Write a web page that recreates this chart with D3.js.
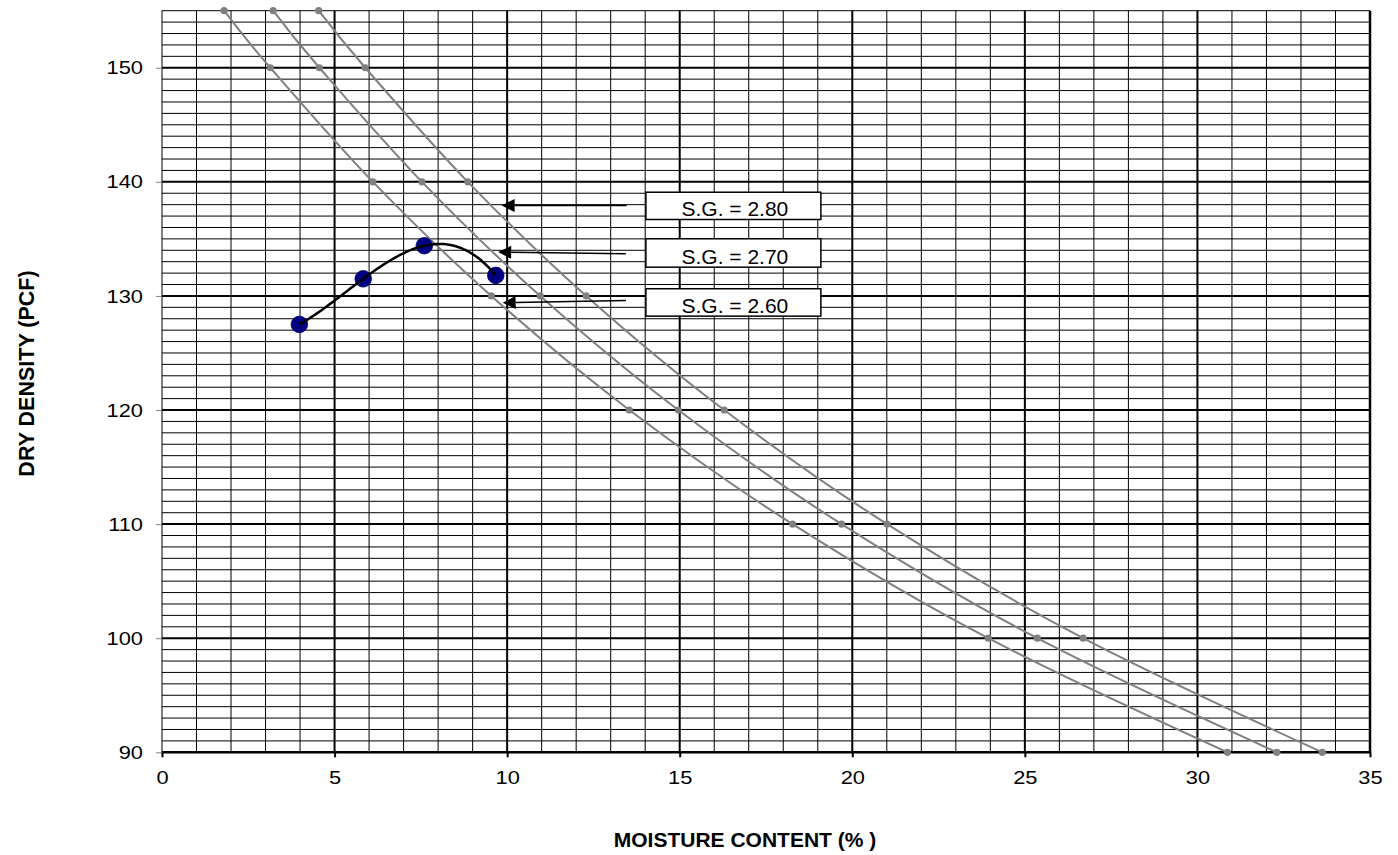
<!DOCTYPE html>
<html><head><meta charset="utf-8">
<script src="https://cdn.jsdelivr.net/npm/d3@7"></script>
<style>body{margin:0;background:#fff} svg{display:block}</style>
</head><body>
<svg id="c" width="1398" height="855"></svg>
<script>
// ---- data ----
const xTicks = [0,5,10,15,20,25,30,35];
const yTicks = [90,100,110,120,130,140,150];
const zavDensity   = [155,150,140,130,120,110,100,90];
const zavMoisture26 = [1.80,3.14,6.11,9.54,13.54,18.27,23.94,30.87];
const zavMoisture27 = [3.22,4.56,7.53,10.96,14.96,19.69,25.36,32.30];
const zavMoisture28 = [4.54,5.89,8.86,12.29,16.29,21.01,26.69,33.62];
const testMoisture = [3.98,5.83,7.60,9.67];
const testDensity  = [127.5,131.5,134.4,131.8];
const sgLabels = ["S.G. = 2.80","S.G. = 2.70","S.G. = 2.60"];
// annotation boxes / arrows in data units
const boxX = [14.02,19.09];
const boxTop    = [139.09,135.01,130.63];
const boxBottom = [136.70,132.52,128.23];
const arrowFromX = [13.46,13.44,13.44];
const arrowFromY = [137.93,133.70,129.61];
const arrowToX   = [9.84,9.74,9.87];
const arrowToY   = [137.93,133.84,129.40];

// ---- layout ----
const L=162, R=1370, T=10.7, B=752.3;
const FONT='"Liberation Sans", Arial, Helvetica, sans-serif';
const svg=d3.select('#c');
const x=d3.scaleLinear().domain([0,35]).range([L,R]);
const y=d3.scaleLinear().domain([90,155]).range([B,T]);

// minor grid
const g=svg.append('g');
const minorX=d3.range(1,35).filter(v=>v%5!==0);
const minorY=d3.range(91,155).filter(v=>v%10!==0);
g.selectAll('.mx').data(minorX).join('line')
  .attr('x1',d=>x(d)).attr('x2',d=>x(d)).attr('y1',T).attr('y2',B)
  .attr('stroke','#000').attr('stroke-width',1);
g.selectAll('.my').data(minorY).join('line')
  .attr('x1',L).attr('x2',R).attr('y1',d=>y(d)).attr('y2',d=>y(d))
  .attr('stroke','#000').attr('stroke-width',1);
// major grid
g.selectAll('.Mx').data(xTicks.filter(v=>v>0&&v<35)).join('line')
  .attr('x1',d=>x(d)).attr('x2',d=>x(d)).attr('y1',T).attr('y2',B)
  .attr('stroke','#000').attr('stroke-width',2);
g.selectAll('.My').data(yTicks.filter(v=>v>90)).join('line')
  .attr('x1',L).attr('x2',R).attr('y1',d=>y(d)).attr('y2',d=>y(d))
  .attr('stroke','#000').attr('stroke-width',2);
// borders
g.append('line').attr('x1',L).attr('x2',R).attr('y1',T).attr('y2',T).attr('stroke','#000').attr('stroke-width',1);
g.append('line').attr('x1',L).attr('x2',L).attr('y1',T).attr('y2',B).attr('stroke','#000').attr('stroke-width',1);
g.append('line').attr('x1',R).attr('x2',R).attr('y1',T).attr('y2',B).attr('stroke','#000').attr('stroke-width',2.5);
g.append('line').attr('x1',L).attr('x2',R+1).attr('y1',B).attr('y2',B).attr('stroke','#000').attr('stroke-width',2.5);

// axes
const SX=1.15;
const ya=svg.append('g').attr('transform',`translate(${L},0)`)
  .call(d3.axisLeft(y).tickValues(yTicks).tickSize(6).tickPadding(13));
ya.select('.domain').remove();
ya.selectAll('line').attr('stroke','#808080').attr('stroke-width',1);
ya.selectAll('text').attr('font-family',FONT).attr('font-size',19).attr('fill','#000')
  .attr('x',-19/SX).attr('transform',`scale(${SX},1)`);
const xa=svg.append('g').attr('transform',`translate(0,${B})`)
  .call(d3.axisBottom(x).tickValues(xTicks).tickSize(5).tickPadding(13.2));
xa.select('.domain').remove();
xa.selectAll('line').attr('stroke','#000').attr('stroke-width',2);
xa.selectAll('text').attr('font-family',FONT).attr('font-size',19).attr('fill','#000')
  .attr('transform',`scale(${SX},1)`);

// zero air voids curves
const curve=d3.curveCardinal.tension(0);
const zav=[zavMoisture26,zavMoisture27,zavMoisture28];
const lineZ=d3.line().curve(curve).x(d=>x(d[0])).y(d=>y(d[1]));
zav.forEach(m=>{
  const pts=m.map((w,i)=>[w,zavDensity[i]]);
  svg.append('path').attr('d',lineZ(pts)).attr('fill','none')
    .attr('stroke','#808080').attr('stroke-width',2);
  svg.append('g').selectAll('circle').data(pts).join('circle')
    .attr('cx',d=>x(d[0])).attr('cy',d=>y(d[1])).attr('r',3.6).attr('fill','#808080');
});

// test points
const tp=testMoisture.map((w,i)=>[w,testDensity[i]]);
svg.append('g').selectAll('circle').data(tp).join('circle')
  .attr('cx',d=>x(d[0])).attr('cy',d=>y(d[1])).attr('r',8.3)
  .attr('fill','#000080').attr('stroke','#000066').attr('stroke-width',0.8);
// polynomial (3rd order) trendline through the test points
function poly(v){
  let s=0;
  for(let i=0;i<testMoisture.length;i++){
    let t=testDensity[i];
    for(let j=0;j<testMoisture.length;j++) if(j!==i) t*=(v-testMoisture[j])/(testMoisture[i]-testMoisture[j]);
    s+=t;
  }
  return s;
}
const x0=d3.min(testMoisture), x1=d3.max(testMoisture);
const trend=d3.range(0,81).map(k=>{const v=x0+(x1-x0)*k/80; return [v,poly(v)];});
svg.append('path').attr('d',d3.line().x(d=>x(d[0])).y(d=>y(d[1]))(trend)).attr('fill','none')
  .attr('stroke','#000').attr('stroke-width',2.5);

// arrows + labels
sgLabels.forEach((s,i)=>{
  const x1=x(arrowFromX[i]), y1=y(arrowFromY[i]), x2=x(arrowToX[i]), y2=y(arrowToY[i]);
  const ang=Math.atan2(y2-y1,x2-x1);
  const hl=13, hw=6.5;
  const bx=x2-hl*Math.cos(ang), by=y2-hl*Math.sin(ang);
  svg.append('line').attr('x1',x1).attr('y1',y1).attr('x2',bx).attr('y2',by)
    .attr('stroke','#000').attr('stroke-width',1.5);
  const px=-Math.sin(ang)*hw, py=Math.cos(ang)*hw;
  svg.append('path').attr('d',`M${x2},${y2}L${bx+px},${by+py}L${bx-px},${by-py}Z`).attr('fill','#000');
  const bl=x(boxX[0]), br=x(boxX[1]), bt=y(boxTop[i]), bb=y(boxBottom[i]);
  svg.append('rect').attr('x',bl).attr('y',bt).attr('width',br-bl).attr('height',bb-bt)
    .attr('fill','#fff').attr('stroke','#000').attr('stroke-width',1.5);
  svg.append('text').attr('x',(bl+br)/2+1.5).attr('y',bb-3.3).attr('text-anchor','middle')
    .attr('font-family',FONT).attr('font-size',21).attr('fill','#000').text(s);
});

// axis titles
svg.append('text').attr('transform','translate(33.5,373.5) rotate(-90)')
  .attr('text-anchor','middle').attr('font-family',FONT).attr('font-weight','bold')
  .attr('font-size',21.5).text('DRY DENSITY  (PCF)');
svg.append('text').attr('x',745).attr('y',847).attr('text-anchor','middle')
  .attr('font-family',FONT).attr('font-weight','bold').attr('font-size',21)
  .text('MOISTURE CONTENT  (% )');
</script>
</body></html>
